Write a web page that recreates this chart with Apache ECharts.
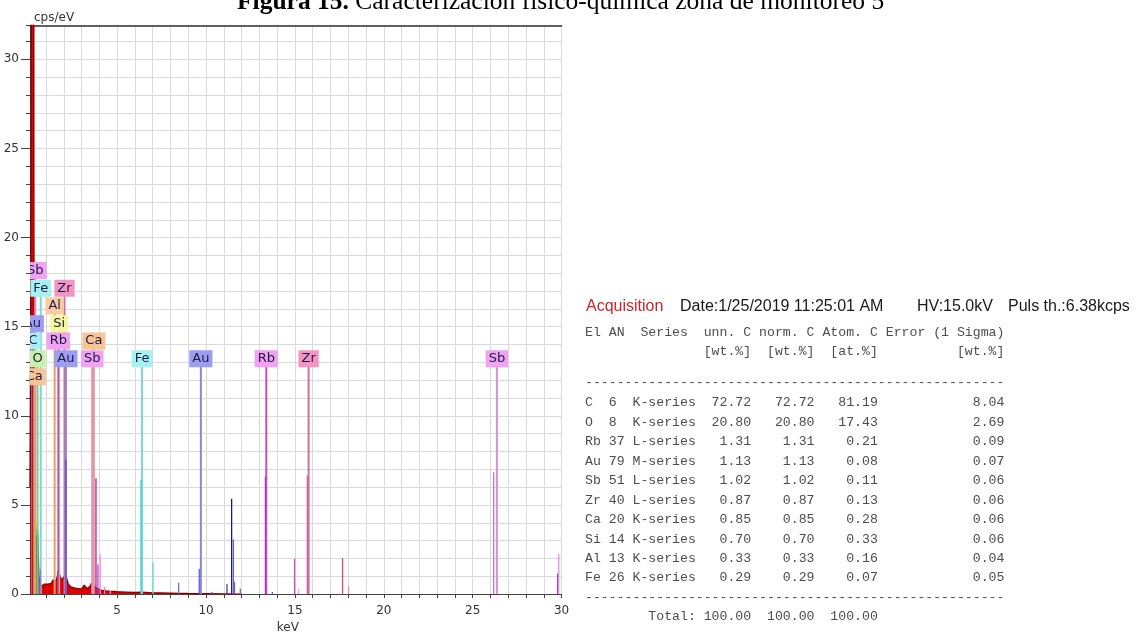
<!DOCTYPE html>
<html>
<head>
<meta charset="utf-8">
<script src="https://cdn.jsdelivr.net/npm/echarts@6/dist/echarts.min.js"></script>
<style>
html,body{margin:0;padding:0;background:#ffffff;}
#main{width:1137px;height:639px;}
</style>
</head>
<body>
<div id="main"></div>
<script>
// ---------- DATA ----------
// measured spectrum (keV, cps/eV)
const specE = [0.10,0.14,0.18,0.22,0.26,0.28,0.30,0.32,0.34,0.36,0.39,0.42,0.46,0.50,0.53,0.56,0.60,0.65,0.70,0.75,0.80,0.85,0.90,0.95,1.00,1.10,1.20,1.30,1.40,1.45,1.50,1.55,1.60,1.65,1.70,1.75,1.80,1.85,1.90,1.95,2.00,2.05,2.10,2.15,2.20,2.25,2.30,2.40,2.50,2.60,2.70,2.80,2.90,3.00,3.10,3.15,3.20,3.30,3.40,3.50,3.55,3.60,3.65,3.70,3.80,3.90,4.00,4.10,4.20,4.40,4.60,4.80,5.00,5.50,6.00,6.40,6.50,7.00,7.50,8.00,8.50,9.00,10.0,11.0,12.0];
const specV = [6,15,35,60,90,100,60,20,9,5,4.2,3.6,2.4,3.0,3.4,2.2,1.0,0.65,0.55,0.45,0.4,0.5,0.55,0.5,0.5,0.55,0.5,0.6,0.8,0.75,0.65,0.7,0.85,1.05,1.35,1.25,0.95,0.8,0.75,0.85,0.95,1.05,1.1,1.0,0.75,0.55,0.45,0.4,0.37,0.34,0.32,0.31,0.29,0.28,0.3,0.5,0.4,0.3,0.35,0.45,0.6,0.7,0.55,0.45,0.4,0.3,0.25,0.22,0.2,0.18,0.16,0.15,0.13,0.11,0.09,0.1,0.08,0.07,0.06,0.05,0.04,0.03,0.02,0.01,0];

// deconvoluted element peaks (keV, cps/eV)
const spikeE = [0.40,0.53,0.68,2.12,3.81,3.92,4.05,4.30,4.62,6.34,7.02,8.46,9.62,10.34,11.18,11.44,11.54,11.60,11.93,13.34,13.73,14.98,15.21,15.70,17.68,18.02,26.18,29.78,29.84];
const spikeV = [4.2,3.6,1.4,7.55,6.5,1.66,2.22,0.4,0.25,6.41,1.79,0.63,1.42,0.12,0.55,5.35,3.08,0.69,0.31,6.6,0.12,1.98,0.31,6.65,2.03,0.46,6.83,1.15,2.25];
const spikeColors = ['#f0a040','#40d8b0','#8080e0','#5050e0','#b020a0','#c040c0','#e890e8','#e080d0','#f0a0f0','#40d0d0','#60d8d8','#7070d0','#5a5ae0','#6060c0','#404090','#202060','#6060d0','#6060d0','#7070d0','#c030c0','#6060c0','#d050b0','#f0a0f0','#d06090','#d05070','#e090b0','#d070d0','#c030c0','#e090e0'];

// element line markers
const markerNames = ['Sb','Fe','Zr','Al','Au','Si','C','Rb','Ca','O','Au','Sb','Fe','Ca','Au','Rb','Zr','Sb'];
const markerE     = [0.40,0.705,2.04,1.486,0.23,1.74,0.277,1.694,3.69,0.525,2.12,3.60,6.40,0.341,9.71,13.39,15.77,26.36];
const markerLabelLevel = [18.15,17.16,17.16,16.16,15.17,15.17,14.2,14.2,14.2,13.2,13.2,13.2,13.2,12.2,13.2,13.2,13.2,13.2];
const elementColors = {
  Sb:{box:'#f2a2f2', line:'#d890d8'},
  Fe:{box:'#a4f2f2', line:'#7ad8d8'},
  Zr:{box:'#f494c4', line:'#d0709c'},
  Al:{box:'#f9cba2', line:'#e8a060'},
  Au:{box:'#9d9df2', line:'#8c86d0'},
  Si:{box:'#f6f6a0', line:'#d8d860'},
  C: {box:'#a8eef4', line:'#a01818'},
  Rb:{box:'#f2a0f2', line:'#c050c8'},
  Ca:{box:'#f8c496', line:'#e8a070'},
  O: {box:'#c8f0a8', line:'#90c878'}
};

// axis ticks
const xTickValues = [1,2,3,4,5,6,7,8,9,10,11,12,13,14,15,16,17,18,19,20,21,22,23,24,25,26,27,28,29,30];
const xLabelValues = [5,10,15,20,25,30];
const yMajorValues = [0,5,10,15,20,25,30];

// quantification table
const tableEl     = ['C','O','Rb','Au','Sb','Zr','Ca','Si','Al','Fe'];
const tableAN     = ['6','8','37','79','51','40','20','14','13','26'];
const tableSeries = ['K-series','K-series','L-series','M-series','L-series','L-series','K-series','K-series','K-series','K-series'];
const tableUnn    = ['72.72','20.80','1.31','1.13','1.02','0.87','0.85','0.70','0.33','0.29'];
const tableNorm   = ['72.72','20.80','1.31','1.13','1.02','0.87','0.85','0.70','0.33','0.29'];
const tableAtom   = ['81.19','17.43','0.21','0.08','0.11','0.13','0.28','0.33','0.16','0.07'];
const tableErr    = ['8.04','2.69','0.09','0.07','0.06','0.06','0.06','0.06','0.04','0.05'];
const tableTotals = ['100.00','100.00','100.00'];

const acqTexts = ['Acquisition','Date:1/25/2019 11:25:01 AM','HV:15.0kV','Puls th.:6.38kcps'];
const titleBold = 'Figura 15.';
const titleRest = 'Caracterización físico-química zona de monitoreo 5';

// ---------- CHART ----------
const chart = echarts.init(document.getElementById('main'), null, {renderer:'canvas'});

const padR = (s,n)=> (s + ' '.repeat(n)).slice(0,n);
const padL = (s,n)=> (' '.repeat(n) + s).slice(-n);

const header1 = 'El AN  Series  unn. C norm. C Atom. C Error (1 Sigma)';
const header2 = ' '.repeat(15) + '[wt.%]' + '  ' + '[wt.%]' + '  ' + '[at.%]' + ' '.repeat(10) + '[wt.%]';
const dashes = '-'.repeat(53);
const rows = tableEl.map((el,i)=> padR(el,3)+padR(tableAN[i],3)+tableSeries[i]+padL(tableUnn[i],7)+padL(tableNorm[i],8)+padL(tableAtom[i],8)+padL(tableErr[i],16));
const totalRow = ' '.repeat(8)+'Total:'+' '+tableTotals[0]+padL(tableTotals[1],8)+padL(tableTotals[2],8);

const mono = {fontFamily:'Liberation Mono', fontSize:13.2, fill:'#4d4d4d'};
const tableX = 585;
const graphics = [];
graphics.push({type:'text', x:237, y:2.5, style:{
  text:'{b|'+titleBold+'} '+titleRest, fontFamily:'Liberation Serif', fontSize:25.5, fill:'#000',
  align:'left', verticalAlign:'middle',
  rich:{b:{fontFamily:'Liberation Serif', fontSize:25.5, fontWeight:'bold', fill:'#000'}}
}});
const acqX = [586,680,917,1008];
acqTexts.forEach((t,i)=>{
  graphics.push({type:'text', x:acqX[i], y:307, style:{text:t, fontFamily:'Liberation Sans', fontSize:16,
    fill: i===0 ? '#c8262c' : '#1a1a1a', align:'left', verticalAlign:'middle'}});
});
const lineTxt = (t,y)=>graphics.push({type:'text', x:tableX, y:y, style:Object.assign({text:t, align:'left', verticalAlign:'middle'}, mono)});
lineTxt(header1, 333);
lineTxt(header2, 352);
lineTxt(dashes, 383);
rows.forEach((r,i)=>lineTxt(r, 403 + i*19.44));
lineTxt(dashes, 598);
lineTxt(totalRow, 617);

const option = {
  animation:false,
  backgroundColor:'#ffffff',
  grid:{left:30, top:25.5, right:575.4, bottom:38.3, containLabel:false},
  xAxis:[{
    type:'value', min:0.1, max:30, position:'bottom',
    name:'keV', nameLocation:'middle', nameGap:27,
    nameTextStyle:{fontFamily:'DejaVu Sans', fontSize:12, color:'#333', padding:[0,16,0,0]},
    axisLine:{show:true, onZero:false, lineStyle:{color:'#444', width:1}},
    axisTick:{show:true, customValues:xTickValues, length:4, lineStyle:{color:'#444'}},
    axisLabel:{customValues:xLabelValues, fontFamily:'DejaVu Sans', fontSize:12, color:'#333', margin:11},
    splitLine:{show:true, lineStyle:{color:'#dadada', width:1}}
  },{
    type:'value', min:0.1, max:30, position:'top',
    axisLine:{show:true, onZero:false, lineStyle:{color:'#333', width:1.5}},
    axisTick:{show:false}, axisLabel:{show:false}, splitLine:{show:false}
  }],
  yAxis:[{
    type:'value', min:0, max:31.9, interval:1, position:'left',
    name:'cps/eV', nameLocation:'end', nameGap:2,
    nameTextStyle:{fontFamily:'DejaVu Sans', fontSize:12, color:'#333', align:'left', padding:[0,0,0,4]},
    axisLine:{show:true, onZero:false, lineStyle:{color:'#444', width:1}},
    axisTick:{show:true, length:4, lineStyle:{color:'#444'}},
    axisLabel:{fontFamily:'DejaVu Sans', fontSize:12, color:'#333', margin:11,
      formatter:(v)=> (Math.abs(v % 5) < 1e-9 ? String(v) : '')},
    splitLine:{show:true, lineStyle:{color:'#dadada', width:1}}
  },{
    type:'value', min:0, max:31.9, position:'left',
    axisLine:{show:false}, axisLabel:{show:false}, splitLine:{show:false},
    axisTick:{show:true, customValues:yMajorValues, length:9, lineStyle:{color:'#444'}}
  }],
  graphic: graphics,
  series:[
    {
      name:'spectrum', type:'line', xAxisIndex:0, yAxisIndex:0, z:2,
      data: specE.map((e,i)=>[e, specV[i]]),
      showSymbol:false, symbol:'none', clip:true,
      lineStyle:{color:'#8e0000', width:1.4},
      areaStyle:{color:'#dc0000', opacity:1}
    },
    {
      name:'markerLines', type:'custom', xAxisIndex:0, yAxisIndex:0, z:3, clip:true,
      data: markerE.map((e,i)=>[e, markerLabelLevel[i]]),
      renderItem:(params, api)=>{
        const e = api.value(0), lv = api.value(1);
        const p0 = api.coord([e,0]), p1 = api.coord([e, lv-0.45]);
        const nm = markerNames[params.dataIndex];
        return {type:'line', shape:{x1:p0[0], y1:p0[1], x2:p1[0], y2:p1[1]},
          style:{stroke:elementColors[nm].line, lineWidth:2}};
      }
    },
    {
      name:'peaks', type:'custom', xAxisIndex:0, yAxisIndex:0, z:4, clip:true,
      data: spikeE.map((e,i)=>[e, spikeV[i]]),
      renderItem:(params, api)=>{
        const p0 = api.coord([api.value(0),0]), p1 = api.coord([api.value(0), api.value(1)]);
        return {type:'line', shape:{x1:p0[0], y1:p0[1], x2:p1[0], y2:p1[1]},
          style:{stroke:spikeColors[params.dataIndex], lineWidth:1.3}};
      }
    },
    {
      name:'markerLabels', type:'custom', xAxisIndex:0, yAxisIndex:0, z:5, clip:true,
      data: markerE.map((e,i)=>[e, markerLabelLevel[i]]),
      renderItem:(params, api)=>{
        const p = api.coord([api.value(0), api.value(1)]);
        const nm = markerNames[params.dataIndex];
        return {type:'text', x:p[0], y:p[1], style:{text:nm, align:'center', verticalAlign:'middle',
          fill:'#1c1c44', fontFamily:'DejaVu Sans', fontSize:13,
          backgroundColor:elementColors[nm].box, padding:[2,3,2,3]}};
      }
    }
  ]
};
chart.setOption(option);
</script>
</body>
</html>
